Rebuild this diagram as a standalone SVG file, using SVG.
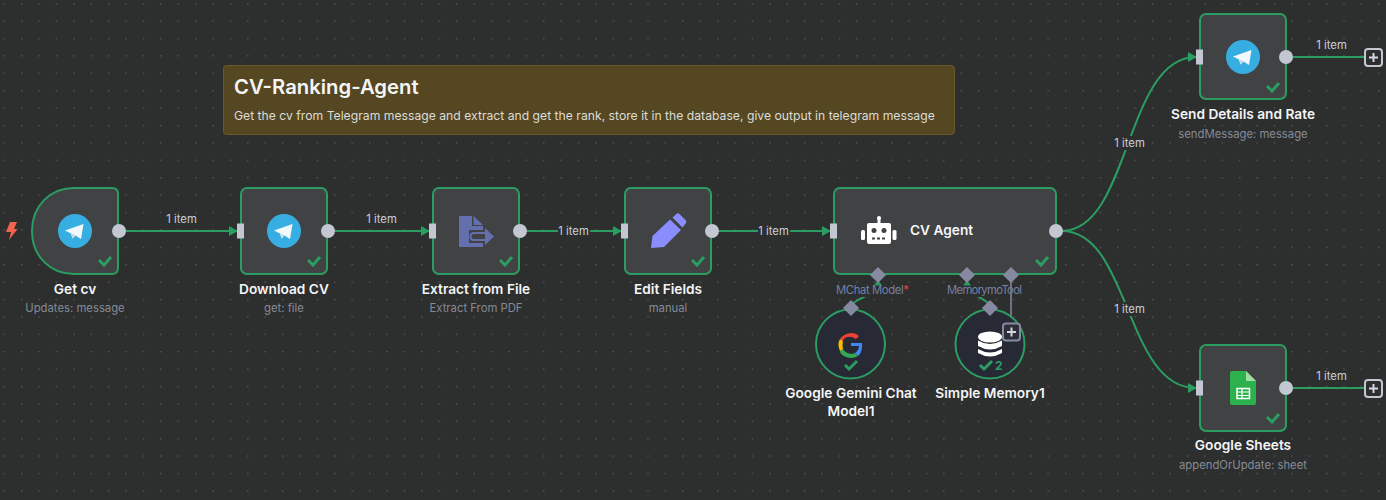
<svg xmlns="http://www.w3.org/2000/svg" width="1386" height="500" viewBox="0 0 1386 500">
<style>
text{font-family:Inter,"Noto Sans",sans-serif}
.nb{fill:#414244;stroke:#2b9d63;stroke-width:2}
.cb{fill:#272a35;stroke:#2b9d63;stroke-width:2}
.t{font-size:13.700px;font-weight:600;fill:#f4f5f7;text-anchor:middle}
.s{font-size:11.300px;fill:#858b97;text-anchor:middle}
.l{font-size:11.300px;fill:#c9ced8;text-anchor:middle}
.p{font-size:11.300px;fill:#7480a4}
.w{fill:none;stroke:#2b9d63;stroke-width:2}
.in{fill:#c3c7d2}
.out{fill:#c3c7d2}
.d{fill:#858aa0}
.ck{fill:none;stroke:#2b9d63;stroke-width:3}
.plus{fill:#2d2e2e;stroke:#c3c7d2;stroke-width:2}
.pl{fill:none;stroke:#d5d8e0;stroke-width:2}
.bg{fill:#2d2e2e}
.ic{fill:#6470ae}
</style>
<defs>
<pattern id="dots" width="17.400" height="17.400" patternUnits="userSpaceOnUse" x="3.500" y="3"><circle cx="0.800" cy="0.800" r="0.700" fill="#646669"/></pattern>
<marker id="arr" markerWidth="9" markerHeight="10" refX="8" refY="5" orient="auto" markerUnits="userSpaceOnUse"><path d="M0 0L9 5L0 10Z" fill="#2b9d63"/></marker>
<g id="tg"><circle r="17" fill="#37aee2"/><path d="M-10 -0.500L8.500 -7L6 8L0.500 4.500L-2.500 7.500L-4 2.500Z" fill="#f2f8fc"/><path d="M-4 2.500L-2.500 7.500L0.500 4.500L-1 3.500Z" fill="#c8dae8"/></g>
</defs>
<rect width="1386" height="500" fill="#2d2e2e"/>
<rect width="1386" height="500" fill="url(#dots)"/>

<g id="connectors">
<path class="w" d="M125 231H237" marker-end="url(#arr)"/>
<path class="w" d="M334 231H429" marker-end="url(#arr)"/>
<path class="w" d="M526 231H621" marker-end="url(#arr)"/>
<path class="w" d="M718 231H830" marker-end="url(#arr)"/>
<path class="w" d="M1062 231C1130 231 1125 57 1196 57" marker-end="url(#arr)"/>
<path class="w" d="M1062 231C1130 231 1125 388 1196 388" marker-end="url(#arr)"/>
<path class="w" d="M1292 57H1365"/>
<path class="w" d="M1292 388H1365"/>
<path class="w" d="M851 308C851 298 878 296 878 284"/>
<path class="w" d="M990 308C990 298 967 296 967 284"/>
<rect class="bg" x="836" y="284" width="74" height="13"/>
<rect class="bg" x="947" y="284" width="76" height="13"/>
<path d="M1011 282V325" fill="none" stroke="#858aa0" stroke-width="1.500"/>
<path d="M874 285.500H882L878 280Z" fill="#2b9d63"/>
<path d="M963 285.500H971L967 280Z" fill="#2b9d63"/>
<text class="l" x="181.500" y="223">1 item</text>
<text class="l" x="381.500" y="223">1 item</text>
<rect class="bg" x="558" y="224" width="32" height="14"/>
<text class="l" x="573.500" y="235">1 item</text>
<rect class="bg" x="758" y="224" width="32" height="14"/>
<text class="l" x="773.500" y="235">1 item</text>
<rect class="bg" x="1113" y="136" width="33" height="14"/>
<text class="l" x="1129.500" y="147">1 item</text>
<rect class="bg" x="1113" y="302" width="33" height="14"/>
<text class="l" x="1129.500" y="313">1 item</text>
<text class="l" x="1331.500" y="49">1 item</text>
<text class="l" x="1331.500" y="380">1 item</text>
<rect class="plus" x="1365" y="49" width="17" height="17" rx="3"/>
<path class="pl" d="M1369 57.500h9M1373.500 53v9"/>
<rect class="plus" x="1365" y="380" width="17" height="17" rx="3"/>
<path class="pl" d="M1369 388.500h9M1373.500 384v9"/>
</g>

<g id="sticky">
<rect x="223.500" y="65.500" width="731" height="69" rx="3" fill="#544722" stroke="#6b5a28"/>
<text x="234" y="94" font-size="20.300" font-weight="600" fill="#f4f5f7">CV-Ranking-Agent</text>
<text x="234" y="120" font-size="12.200" fill="#dcdcd8">Get the cv from Telegram message and extract and get the rank, store it in the database, give output in telegram message</text>
</g>

<g id="trigger-get-cv">
<path d="M10 222H17L14 229H17.500L9 240L11 232H6Z" fill="#f1634f"/>
<path class="nb" d="M74 188H112Q118 188 118 194V268Q118 274 112 274H74C50 274 32 256 32 231C32 206 50 188 74 188Z"/>
<use href="#tg" x="75" y="231"/>
<path class="ck" d="M99 260L104 265L111 257"/>
<circle class="out" cx="119" cy="231" r="7"/>
<text class="t" x="75" y="294">Get cv</text>
<text class="s" x="75" y="312">Updates: message</text>
</g>

<g id="download-cv">
<rect class="nb" x="241" y="188" width="86" height="86" rx="6"/>
<use href="#tg" x="284" y="231"/>
<path class="ck" d="M308 260L313 265L320 257"/>
<rect class="in" x="237" y="223.500" width="7" height="15"/>
<circle class="out" cx="328" cy="231" r="7"/>
<text class="t" x="284" y="294">Download CV</text>
<text class="s" x="284" y="312">get: file</text>
</g>

<g id="extract-from-file">
<rect class="nb" x="433" y="188" width="86" height="86" rx="6"/>
<path class="ic" d="M459 216H472V226H483V247H459Z"/>
<path class="ic" d="M473.500 216L483 225H473.500Z"/>
<rect x="469" y="230" width="22" height="13" fill="#414244"/>
<path d="M486 233H474Q470.500 233 470.500 236.500Q470.500 240 474 240H486" fill="none" stroke="#6470ae" stroke-width="2"/>
<path class="ic" d="M485 228L494 236.500L485 245Z"/>
<path class="ck" d="M500 260L505 265L512 257"/>
<rect class="in" x="429" y="223.500" width="7" height="15"/>
<circle class="out" cx="520" cy="231" r="7"/>
<text class="t" x="476" y="294">Extract from File</text>
<text class="s" x="476" y="312">Extract From PDF</text>
</g>

<g id="edit-fields">
<rect class="nb" x="625" y="188" width="86" height="86" rx="6"/>
<path d="M651 248L652.500 236L670 219.500L681 230L664 247Z" fill="#8a8dff"/>
<path d="M672.500 217.500L677 213.500Q678 213 679 213.500L686 220.500Q686.500 222 686 223L682.500 227.500Z" fill="#8a8dff"/>
<path class="ck" d="M692 260L697 265L704 257"/>
<rect class="in" x="621" y="223.500" width="7" height="15"/>
<circle class="out" cx="712" cy="231" r="7"/>
<text class="t" x="668" y="294">Edit Fields</text>
<text class="s" x="668" y="312">manual</text>
</g>

<g id="cv-agent">
<rect class="nb" x="834" y="188" width="222" height="86" rx="6"/>
<path d="M869 223H889Q891 223 891 225V242Q891 244 889 244H869Q867 244 867 242V225Q867 223 869 223Z" fill="#fff"/>
<rect x="877.500" y="218" width="3" height="6" fill="#fff"/><circle cx="879" cy="218" r="2" fill="#fff"/>
<rect x="861" y="230" width="4" height="10" rx="1.500" fill="#fff"/><rect x="892.500" y="230" width="4" height="10" rx="1.500" fill="#fff"/>
<circle cx="874" cy="230.500" r="2.500" fill="#414244"/><circle cx="884" cy="230.500" r="2.500" fill="#414244"/>
<path d="M872 238.500h14" stroke="#414244" stroke-width="2" stroke-dasharray="3 2"/>
<text x="910" y="235" font-size="13.700" font-weight="600" fill="#f4f5f7">CV Agent</text>
<path class="ck" d="M1036 260L1041 265L1048 257"/>
<rect class="in" x="830" y="223.500" width="7" height="15"/>
<circle class="out" cx="1056" cy="231" r="7"/>
<path class="d" d="M878 267L886 275L878 283L870 275Z"/>
<path class="d" d="M967 267L975 275L967 283L959 275Z"/>
<path class="d" d="M1011 267L1019 275L1011 283L1003 275Z"/>
<text class="p" x="836" y="294" textLength="73" lengthAdjust="spacing">MChat Model<tspan fill="#e5484d">*</tspan></text>
<text class="p" x="947" y="294" textLength="75" lengthAdjust="spacing">MemorymoTool</text>
</g>

<g id="gemini">
<circle class="cb" cx="850.500" cy="344" r="34.500"/>
<path class="d" d="M851 300L859 308L851 316L843 308Z"/>
<path d="M862 346H851V343H862Q863 352 858 356L855 353Q859 350 859 346Z" fill="#4285f4"/>
<path d="M858 356Q851 360 844 356Q840 354 840 351L843 349Q845 353 851 354Q853 354 855 353Z" fill="#34a853"/>
<path d="M840 351Q837 344 840 339L843 341Q842 345 843 349Z" fill="#fbbc05"/>
<path d="M840 339Q843 334 851 333Q856 333 859 336L856 339Q850 335 845 338Q843 340 843 341Z" fill="#ea4335"/>
<path class="ck" d="M845 365L849 369L857 361"/>
<text class="t" x="851" y="398">Google Gemini Chat</text>
<text class="t" x="851" y="416">Model1</text>
</g>

<g id="simple-memory">
<circle class="cb" cx="990" cy="344" r="34.500"/>
<path class="d" d="M990 300L998 308L990 316L982 308Z"/>
<ellipse cx="990" cy="337" rx="12" ry="5.500" fill="#fff"/>
<path d="M978 340.500Q990 347.500 1002 340.500V346Q990 353 978 346Z" fill="#fff"/>
<path d="M978 349Q990 356 1002 349V353Q990 360 978 353Z" fill="#fff"/>
<path class="ck" d="M980 365L984 369L992 361"/>
<text x="995" y="370" font-size="12" font-weight="700" fill="#2b9d63">2</text>
<rect x="1003" y="323.500" width="17" height="17" rx="3" fill="#2d2e3a" stroke="#858aa0" stroke-width="2"/>
<path class="pl" d="M1007 332h9M1011.500 327.500v9"/>
<text class="t" x="990" y="398">Simple Memory1</text>
</g>

<g id="send-details">
<rect class="nb" x="1200" y="14" width="86" height="85" rx="6"/>
<use href="#tg" x="1243" y="57"/>
<path class="ck" d="M1267 86L1272 91L1279 83"/>
<rect class="in" x="1196" y="49.500" width="7" height="15"/>
<circle class="out" cx="1286" cy="57" r="7"/>
<text class="t" x="1243" y="119">Send Details and Rate</text>
<text class="s" x="1243" y="138">sendMessage: message</text>
</g>

<g id="google-sheets">
<rect class="nb" x="1200" y="345" width="86" height="86" rx="6"/>
<path d="M1232 371H1246L1256 381V403Q1256 405 1254 405H1232Q1230 405 1230 403V373Q1230 371 1232 371Z" fill="#2bb24c"/>
<path d="M1246 371L1256 381H1246Z" fill="#a5dba5"/>
<rect x="1237" y="388.500" width="12.500" height="10" fill="none" stroke="#fff" stroke-width="1.500"/>
<path d="M1237 392h12.500M1237 395.500h12.500M1242 388.500v10" stroke="#fff" stroke-width="1.200"/>
<path class="ck" d="M1267 417L1272 422L1279 414"/>
<rect class="in" x="1196" y="380.500" width="7" height="15"/>
<circle class="out" cx="1286" cy="388" r="7"/>
<text class="t" x="1243" y="450">Google Sheets</text>
<text class="s" x="1243" y="469">appendOrUpdate: sheet</text>
</g>
</svg>
